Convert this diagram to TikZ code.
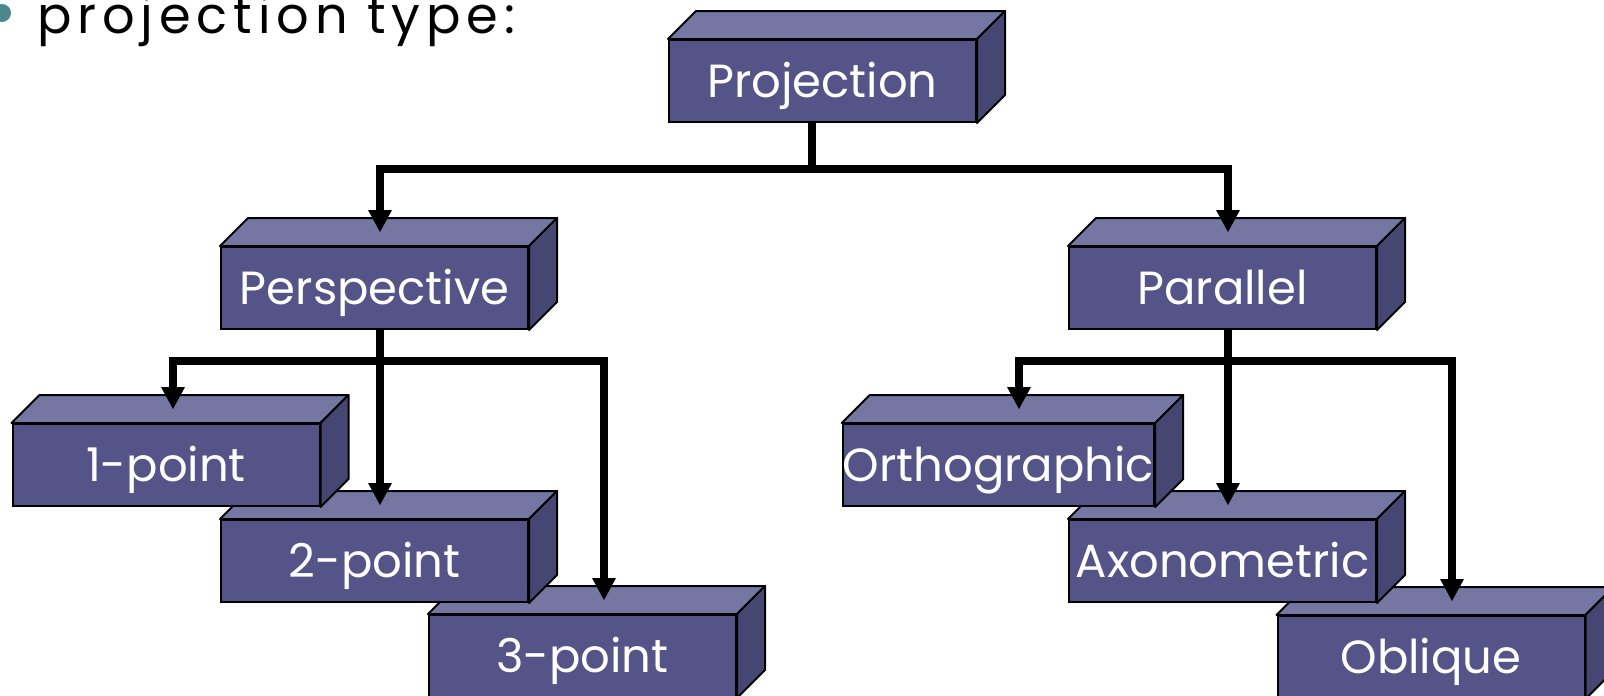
\documentclass[tikz,border=0pt]{standalone}
\usepackage{fontspec}
\setmainfont{Poppins}
\usepackage{tikz}
\usetikzlibrary{arrows.meta}

\definecolor{frontblue}{RGB}{84,84,136}
\definecolor{topblue}{RGB}{118,118,162}
\definecolor{sideblue}{RGB}{70,70,114}
\definecolor{bulletteal}{RGB}{74,136,140}

\tikzset{
  block/.style={draw,line width=2pt,fill=frontblue,text=white,
    minimum width=307pt,minimum height=82pt,inner sep=0pt,
    text height=33pt,text depth=0pt,font=\fontsize{46.5}{50}\selectfont},
  face/.style={draw,line width=2pt,line join=round},
  link/.style={line width=8pt,line join=miter},
  arrow/.style={link,-{Triangle[width=24pt,length=22pt,line width=0pt]}},
}

% top and side faces of a block
\newcommand{\blockfaces}[1]{%
  \filldraw[face,fill=topblue] (#1.north west) -- ([shift={(28,-28)}]#1.north west)
    -- ([shift={(28,-28)}]#1.north east) -- (#1.north east) -- cycle;
  \filldraw[face,fill=sideblue] (#1.north east) -- ([shift={(28,-28)}]#1.north east)
    -- ([shift={(28,-28)}]#1.south east) -- (#1.south east) -- cycle;
  \coordinate (#1-in) at ([yshift=14pt]#1.north);
}

\begin{document}
\begin{tikzpicture}[x=1pt,y=-1pt]
\useasboundingbox (0,0) rectangle (1604,696);

\fill[bulletteal] (2,13) circle (9);
\node[anchor=base west,inner sep=0pt,
    font=\fontsize{51}{55}\selectfont\addfontfeature{LetterSpace=11.5}]
    at (37,34) (title) {projection type:};

\node[block] at (822.5,81) (proj) {Projection};
\blockfaces{proj}
\node[block] at (374.5,288) (persp) {Perspective};
\blockfaces{persp}
\node[block] at (1222.5,288) (para) {Parallel};
\blockfaces{para}

\node[block] at (582.5,656) (three) {3-point};
\blockfaces{three}
\node[block] at (374.5,561) (two) {2-point};
\blockfaces{two}
\node[block] at (166,465) (one) {1-point};
\blockfaces{one}

\node[block] at (1431,657) (obl) {Oblique};
\blockfaces{obl}
\node[block] at (1222.5,561) (axo) {Axonometric};
\blockfaces{axo}
\node[block] at (998.5,465) (ortho) {Orthographic};
\blockfaces{ortho}

% connectors
\coordinate (pj-stem) at (812,169);
\coordinate (pj-l) at (380,169);
\coordinate (pj-r) at (1228,169);
\draw[link] (pj-stem |- proj.south) -- (pj-stem);
\draw[arrow] (pj-r) -- (pj-l) -- (pj-l |- persp-in);
\draw[arrow] (pj-l) -- (pj-r) -- (pj-r |- para-in);

\coordinate (pe-l) at (173,361);
\coordinate (pe-m) at (380,361);
\coordinate (pe-r) at (604,361);
\draw[arrow] (pe-m |- persp.south) -- (pe-m |- two-in);
\draw[arrow] (pe-r) -- (pe-l) -- (pe-l |- one-in);
\draw[arrow] (pe-l) -- (pe-r) -- (pe-r |- three-in);

\coordinate (pa-l) at (1019,361);
\coordinate (pa-m) at (1228,361);
\coordinate (pa-r) at (1452,361);
\draw[arrow] (pa-m |- para.south) -- (pa-m |- axo-in);
\draw[arrow] (pa-r) -- (pa-l) -- (pa-l |- ortho-in);
\draw[arrow] (pa-l) -- (pa-r) -- (pa-r |- obl-in);
\end{tikzpicture}
\end{document}
